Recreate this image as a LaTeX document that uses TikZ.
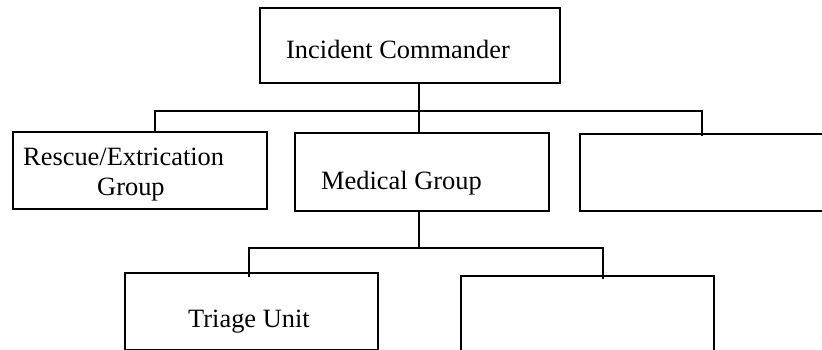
\documentclass[tikz,border=0pt]{standalone}
\usepackage{fontspec}
\setmainfont{Liberation Serif}
\begin{document}
\begin{tikzpicture}[x=1pt,y=-1pt,
  orgbox/.style={draw=black, line width=2.4pt, rectangle, inner sep=0pt, fill=white},
  link/.style={draw=black, line width=2.4pt, line join=miter},
  lbl/.style={inner sep=0pt, anchor=base west, font=\fontsize{26.4}{30}\selectfont}]
  \useasboundingbox (0,0) rectangle (822,349);
  \clip (0,0) rectangle (822,349);
  % boxes
  \node[orgbox, minimum width=300pt, minimum height=75pt] (ic) at (410,45.5) {};
  \node[orgbox, minimum width=254pt, minimum height=77pt] (rescue) at (140,170.5) {};
  \node[orgbox, minimum width=254pt, minimum height=78pt] (medical) at (422,172) {};
  \node[orgbox, minimum width=254pt, minimum height=77pt] (spare) at (707,172.5) {};
  \node[orgbox, minimum width=253pt, minimum height=77pt] (triage) at (251.5,311.5) {};
  \node[orgbox, minimum width=253pt, minimum height=76pt] (unit) at (587.5,314) {};
  % labels
  \node[lbl] (icl) at (286,58) {Incident Commander};
  \node[lbl, align=left] (rescuel) at (23,195) {Rescue/Extrication\\\hspace*{74pt}Group};
  \node[lbl] (medicall) at (321,189) {Medical Group};
  \node[lbl] (triagel) at (188,327) {Triage Unit};
  % bus points
  \coordinate (trunk) at (419,111);
  \coordinate (busL) at (155,111);
  \coordinate (busR) at (702,111);
  \coordinate (trunkB) at (419,248);
  \coordinate (busBL) at (249,248);
  \coordinate (busBR) at (603,248);
  % connectors
  \draw[link] (ic.south -| trunk) -- (medical.north -| trunk);
  \draw[link] (rescue.north -| busL) -- (busL) -- (busR) -- ([yshift=-3pt]spare.north -| busR);
  \draw[link] (medical.south -| trunkB) -- (trunkB);
  \draw[link] ([yshift=-5pt]triage.north -| busBL) -- (busBL) -- (busBR) -- ([yshift=-4pt]unit.north -| busBR);
\end{tikzpicture}
\end{document}
